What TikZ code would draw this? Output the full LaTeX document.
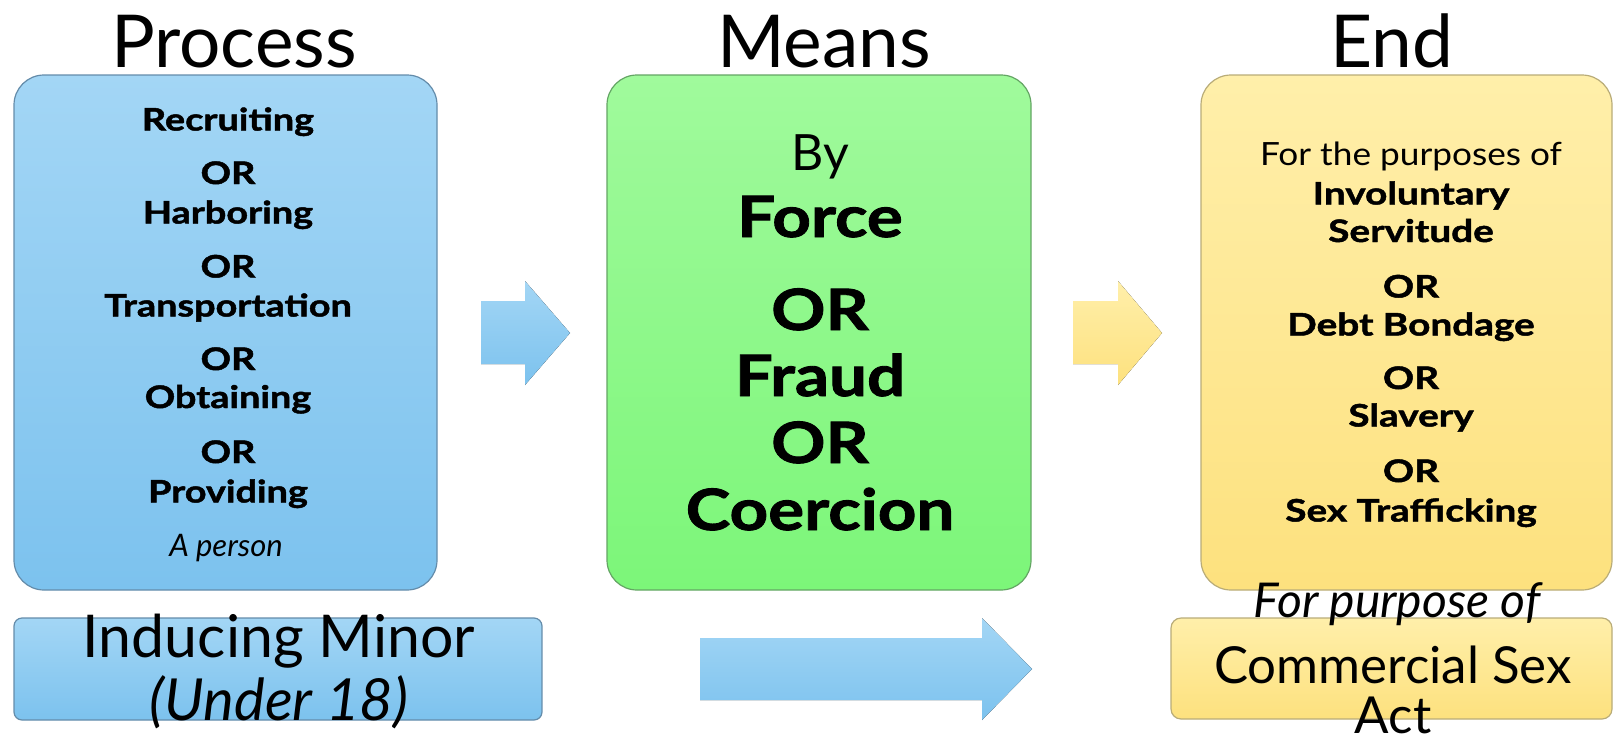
\documentclass[tikz,border=0pt]{standalone}
\usepackage{fontspec}
\setmainfont{Lato}
\newfontfamily\heavyfont{Lato}[BoldFeatures={FakeBold=1.5,FakeStretch=1.22}]
\newfontfamily\heavyfontw{Lato}[BoldFeatures={FakeBold=1.5,FakeStretch=1.25}]
\newfontfamily\heavyfontm{Lato}[BoldFeatures={FakeBold=1.5,FakeStretch=1.18}]
\definecolor{bluetop}{RGB}{163,214,245}
\definecolor{bluebot}{RGB}{124,194,238}
\definecolor{blueedge}{RGB}{100,140,170}
\definecolor{greentop}{RGB}{160,250,156}
\definecolor{greenbot}{RGB}{124,246,121}
\definecolor{greenedge}{RGB}{100,165,100}
\definecolor{yellowtop}{RGB}{255,239,170}
\definecolor{yellowbot}{RGB}{253,225,126}
\definecolor{yellowedge}{RGB}{185,172,120}
\tikzset{
  box/.style={rectangle, line width=1.2pt, inner sep=0pt},
  bluebox/.style={box, draw=blueedge, top color=bluetop, bottom color=bluebot},
  greenbox/.style={box, draw=greenedge, top color=greentop, bottom color=greenbot},
  yellowbox/.style={box, draw=yellowedge, top color=yellowtop, bottom color=yellowbot},
  bluearrow/.style={top color=bluetop, bottom color=bluebot, draw=none},
  yellowarrow/.style={top color=yellowtop, bottom color=yellowbot, draw=none},
  txt/.style={anchor=base, inner sep=0pt, text=black},
  title/.style={txt, font=\fontsize{73}{73}\selectfont},
  pb/.style={txt, font=\fontsize{31}{31}\selectfont\heavyfont\bfseries},
  pi/.style={txt, font=\fontsize{31}{31}\selectfont\itshape},
  mr/.style={txt, font=\fontsize{50}{50}\selectfont},
  mb/.style={txt, font=\fontsize{57}{57}\selectfont\heavyfontm\bfseries},
  er/.style={txt, font=\fontsize{32}{32}\selectfont},
  eb/.style={txt, font=\fontsize{31}{31}\selectfont\heavyfontw\bfseries},
  lr/.style={txt, font=\fontsize{59}{59}\selectfont},
  li/.style={txt, font=\fontsize{58}{58}\selectfont\itshape},
  cr/.style={txt, font=\fontsize{51}{51}\selectfont},
  ci/.style={txt, font=\fontsize{48}{48}\selectfont\itshape},
}
\begin{document}
\begin{tikzpicture}[x=1pt,y=-1pt]
\useasboundingbox (0,0) rectangle (1614,742);
% boxes
\node[bluebox, rounded corners=30pt, minimum width=423pt, minimum height=515pt] (process) at (225.5,332.5) {};
\node[greenbox, rounded corners=30pt, minimum width=424pt, minimum height=515pt] (means) at (819,332.5) {};
\node[yellowbox, rounded corners=30pt, minimum width=411pt, minimum height=515pt] (end) at (1406.5,332.5) {};
\node[bluebox, rounded corners=8pt, minimum width=528pt, minimum height=102pt] (minor) at (278,669) {};
\node[yellowbox, rounded corners=10pt, minimum width=441pt, minimum height=101pt] (commercial) at (1391.5,668.5) {};
% block arrows
\fill[bluearrow] (481,301) -- (525,301) -- (525,281) -- (570,333) -- (525,385) -- (525,364) -- (481,364) -- cycle;
\fill[yellowarrow] (1073,301) -- (1118,301) -- (1118,281) -- (1162,333) -- (1118,385) -- (1118,364) -- (1073,364) -- cycle;
\fill[bluearrow] (700,638) -- (982,638) -- (982,618) -- (1032,669) -- (982,720) -- (982,700) -- (700,700) -- cycle;
% titles
\node[title] (tprocess) at (234,67) {Process};
\node[title] (tmeans) at (824,67) {Means};
\node[title] (tend) at (1392,67) {End};
% process text
\node[pb] (p1) at (228,130.5) {Recruiting};
\node[pb] (p2) at (228,184) {OR};
\node[pb] (p3) at (228,223.5) {Harboring};
\node[pb] (p4) at (228,277.5) {OR};
\node[pb] (p5) at (228,316.5) {Transportation};
\node[pb] (p6) at (228,370) {OR};
\node[pb] (p7) at (228,408) {Obtaining};
\node[pb] (p8) at (228,463) {OR};
\node[pb] (p9) at (228,502.5) {Providing};
\node[pi] (p10) at (226,556) {A person};
% means text
\node[mr] (m1) at (820,170) {By};
\node[mb] (m2) at (820,237) {Force};
\node[mb] (m3) at (820,330) {OR};
\node[mb] (m4) at (820,396) {Fraud};
\node[mb] (m5) at (820,463) {OR};
\node[mb] (m6) at (820,530) {Coercion};
% end text
\node[er] (e1) at (1411,165) {\scalebox{1.1}[1]{For the purposes of}};
\node[eb] (e2) at (1411,204.5) {Involuntary};
\node[eb] (e3) at (1411,242) {Servitude};
\node[eb] (e4) at (1411,297.5) {OR};
\node[eb] (e5) at (1411,335.5) {Debt Bondage};
\node[eb] (e6) at (1411,389) {OR};
\node[eb] (e7) at (1411,426.5) {Slavery};
\node[eb] (e8) at (1411,482) {OR};
\node[eb] (e9) at (1411,521.5) {Sex Trafficking};
% minor text
\node[lr] (l1) at (279,657) {Inducing Minor};
\node[li] (l2) at (279,720) {(Under 18)};
% commercial text
\node[ci] (c1) at (1397,617) {For purpose of};
\node[cr] (c2) at (1393,683) {Commercial Sex};
\node[cr] (c3) at (1393,733) {Act};
\end{tikzpicture}
\end{document}
